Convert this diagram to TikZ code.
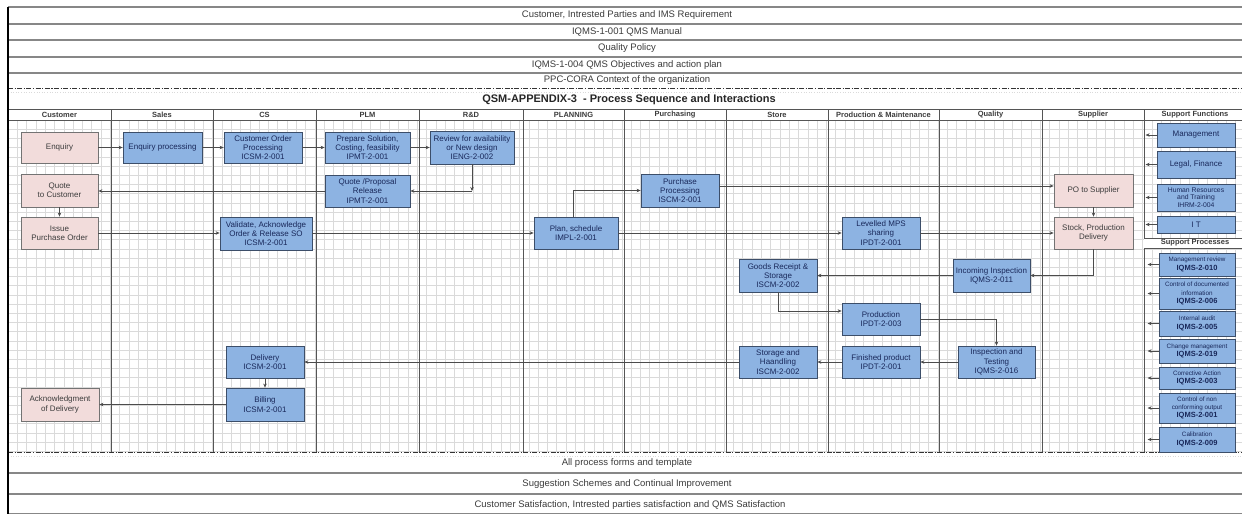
\documentclass[tikz,border=0pt]{standalone}
\usepackage{fontspec}
\setmainfont{Liberation Sans}
\usetikzlibrary{arrows.meta}
\definecolor{boxblue}{RGB}{141,179,226}
\definecolor{blueline}{RGB}{60,78,105}
\definecolor{boxpink}{RGB}{242,220,219}
\definecolor{pinkline}{RGB}{115,115,115}
\definecolor{navy}{RGB}{25,40,90}
\definecolor{gridc}{RGB}{218,218,218}
\definecolor{lanec}{RGB}{85,85,85}
\definecolor{bandc}{RGB}{135,135,135}
\definecolor{txtc}{RGB}{60,60,60}
\begin{document}
\begin{tikzpicture}[x=1pt,y=-1pt,
  base/.style={draw, line width=0.8pt, inner sep=1pt, align=center, font=\fontsize{8}{9.3}\selectfont},
  bluebox/.style={base, fill=boxblue, draw=blueline, text=navy},
  pinkbox/.style={base, fill=boxpink, draw=pinkline, text=txtc},
  spbox/.style={bluebox, minimum width=76pt, font=\fontsize{7.5}{8.2}\selectfont},
  sfbox/.style={bluebox, minimum width=78pt},
  conn/.style={draw=black!70, line width=0.6pt, -{Stealth[length=4pt,width=3.5pt]}},
  band/.style={draw=bandc, line width=1.2pt},
  bandtext/.style={font=\fontsize{9.5}{10}\selectfont, text=txtc, inner sep=0pt},
  lanehead/.style={font=\bfseries\fontsize{7.5}{8}\selectfont, text=txtc, inner sep=0pt},
  laneline/.style={draw=lanec, line width=0.9pt},
  dashline/.style={draw=black!80, line width=1pt, dash pattern=on 5pt off 1.5pt on 1.2pt off 1.5pt}
]
\useasboundingbox (0,0) rectangle (1242,515);
\fill[white] (0,0) rectangle (1242,515);

% grid
\foreach \x in {8,17.3,...,1242} \draw[gridc, line width=0.45pt] (\x,120) -- (\x,452);
\foreach \y in {120,129.2,...,452} \draw[gridc, line width=0.45pt] (8,\y) -- (1242,\y);

% top bands
\foreach \y in {7,24,40,57,73} \draw[band] (8,\y) -- (1242,\y);
\node[bandtext] (t1) at (627,15.5) {Customer, Intrested Parties and IMS Requirement};
\node[bandtext] (t2) at (627,32) {IQMS-1-001 QMS Manual};
\node[bandtext] (t3) at (627,48.5) {Quality Policy};
\node[bandtext] (t4) at (627,65) {IQMS-1-004 QMS Objectives and action plan};
\node[bandtext] (t5) at (627,80.5) {PPC-CORA Context of the organization};
\draw[dashline] (8,88) -- (1242,88);
\draw[gridc, line width=0.6pt, dotted] (8,92) -- (1242,92);
\node[font=\bfseries\fontsize{11}{12}\selectfont, text=black!85, inner sep=0pt] (title) at (629,100) {QSM-APPENDIX-3 \ - Process Sequence and Interactions};

% lane header row
\fill[white] (8,109) rectangle (1242,120);
\draw[laneline] (8,109) -- (1242,109);
\draw[laneline] (8,120) -- (1242,120);
\foreach \x in {111,213,316,419,523,624,726,828,939,1042,1144} \draw[laneline] (\x,109) -- (\x,452);
\node[lanehead] (h1) at (59.5,114.5) {Customer};
\node[lanehead] (h2) at (162,114.5) {Sales};
\node[lanehead] (h3) at (264.5,114.5) {CS};
\node[lanehead] (h4) at (367.5,114.5) {PLM};
\node[lanehead] (h5) at (471,114.5) {R\&D};
\node[lanehead] (h6) at (573.5,114.5) {PLANNING};
\node[lanehead] (h7) at (675,114.5) {Purchasing};
\node[lanehead] (h8) at (777,114.5) {Store};
\node[lanehead] (h9) at (883.5,114.5) {Production \& Maintenance};
\node[lanehead] (h10) at (990.5,114.5) {Quality};
\node[lanehead] (h11) at (1093,114.5) {Supplier};
\node[lanehead] (h12) at (1195,114.5) {Support Functions};

% support processes header band
\fill[white] (1144,238) rectangle (1242,248);
\draw[laneline] (1144,238) -- (1242,238);
\draw[laneline] (1144,248) -- (1242,248);
\node[lanehead] (h13) at (1195,243) {Support Processes};

% bottom bands
\draw[dashline] (8,452) -- (1242,452);
\draw[gridc, line width=0.6pt, dotted] (8,456) -- (1242,456);
\foreach \y in {473,494,513.5} \draw[band] (8,\y) -- (1242,\y);
\node[bandtext] (b1) at (627,463) {All process forms and template};
\node[bandtext] (b2) at (627,484) {Suggestion Schemes and Continual Improvement};
\node[bandtext] (b3) at (630,505) {Customer Satisfaction, Intrested parties satisfaction and QMS Satisfaction};
\draw[black, line width=1.3pt] (8,7) -- (8,514);

% process boxes
\node[pinkbox, minimum width=77pt, minimum height=31pt] (enq) at (59.5,147.5) {Enquiry};
\node[bluebox, minimum width=79pt, minimum height=31pt] (enqp) at (162.5,147.5) {Enquiry processing};
\node[bluebox, minimum width=78pt, minimum height=31pt] (cop) at (263,147.5) {Customer Order\\Processing\\ICSM-2-001};
\node[bluebox, minimum width=85pt, minimum height=31pt] (prep) at (367.5,147.5) {Prepare Solution,\\Costing, feasibility\\IPMT-2-001};
\node[bluebox, minimum width=84pt, minimum height=33pt] (rev) at (472,147.5) {Review for availability\\or New design\\IENG-2-002};
\node[pinkbox, minimum width=77pt, minimum height=33pt] (qtc) at (59.5,190.5) {Quote\\to Customer};
\node[bluebox, minimum width=85pt, minimum height=32pt] (qpr) at (367.5,191) {Quote /Proposal\\Release\\IPMT-2-001};
\node[pinkbox, minimum width=77pt, minimum height=32pt] (ipo) at (59.5,233) {Issue\\Purchase Order};
\node[bluebox, minimum width=92pt, minimum height=33pt] (val) at (266,233.5) {Validate, Acknowledge\\Order \& Release SO\\ICSM-2-001};
\node[bluebox, minimum width=84pt, minimum height=32pt] (plan) at (576,233) {Plan, schedule\\IMPL-2-001};
\node[bluebox, minimum width=78pt, minimum height=33pt] (pur) at (680,190.5) {Purchase\\Processing\\ISCM-2-001};
\node[pinkbox, minimum width=79pt, minimum height=33pt] (pos) at (1093.5,190.5) {PO to Supplier};
\node[pinkbox, minimum width=79pt, minimum height=32pt] (stock) at (1093.5,233) {Stock, Production\\Delivery};
\node[bluebox, minimum width=78pt, minimum height=32pt] (mps) at (881,233) {Levelled MPS\\sharing\\IPDT-2-001};
\node[bluebox, minimum width=78pt, minimum height=33pt] (grs) at (778,275.5) {Goods Receipt \&\\Storage\\ISCM-2-002};
\node[bluebox, minimum width=77pt, minimum height=33pt] (inc) at (991.5,275.5) {Incoming Inspection\\IQMS-2-011};
\node[bluebox, minimum width=78pt, minimum height=32pt] (prod) at (881,319) {Production\\IPDT-2-003};
\node[bluebox, minimum width=78pt, minimum height=32pt] (fin) at (881,362) {Finished product\\IPDT-2-001};
\node[bluebox, minimum width=77pt, minimum height=32pt] (ins) at (996.5,362) {Inspection and\\Testing\\IQMS-2-016};
\node[bluebox, minimum width=78pt, minimum height=32pt] (sto) at (778,362) {Storage and\\Haandling\\ISCM-2-002};
\node[bluebox, minimum width=78pt, minimum height=32pt] (del) at (265,362) {Delivery\\ICSM-2-001};
\node[bluebox, minimum width=78pt, minimum height=33pt] (bil) at (265,404.5) {Billing\\ICSM-2-001};
\node[pinkbox, minimum width=78pt, minimum height=33pt] (ack) at (60,404.5) {Acknowledgment\\of Delivery};

% support functions
\node[sfbox, minimum height=24pt] (mgmt) at (1196,135) {Management};
\node[sfbox, minimum height=27pt] (legal) at (1196,164.5) {Legal, Finance};
\node[sfbox, minimum height=27pt, font=\fontsize{6.8}{7.8}\selectfont] (hr) at (1196,197.5) {Human Resources\\and Training\\IHRM-2-004};
\node[sfbox, minimum height=17pt] (it) at (1196,224.5) {I T};

% support processes
\newcommand\dsc[1]{{\fontsize{6.3}{7}\selectfont #1}}
\node[spbox, minimum height=23pt] (mr) at (1197,264.5) {\dsc{Management review}\\\textbf{IQMS-2-010}};
\node[spbox, minimum height=31pt] (cdi) at (1197,293.5) {\dsc{Control of documented}\\\dsc{information}\\\textbf{IQMS-2-006}};
\node[spbox, minimum height=25pt] (ia) at (1197,323.5) {\dsc{Internal audit}\\\textbf{IQMS-2-005}};
\node[spbox, minimum height=24pt] (cm) at (1197,351) {\dsc{Change management}\\\textbf{IQMS-2-019}};
\node[spbox, minimum height=22pt] (ca) at (1197,378) {\dsc{Corrective Action}\\\textbf{IQMS-2-003}};
\node[spbox, minimum height=30pt] (cnc) at (1197,408) {\dsc{Control of non}\\\dsc{conforming output}\\\textbf{IQMS-2-001}};
\node[spbox, minimum height=25pt] (cal) at (1197,439.5) {\dsc{Calibration}\\\textbf{IQMS-2-009}};

% connectors
\draw[conn] (enq.east) -- (enqp.west);
\draw[conn] (enqp.east) -- (cop.west);
\draw[conn] (cop.east) -- (prep.west);
\draw[conn] (prep.east) -- (rev.west);
\coordinate (c5) at (rev.south |- qpr.east);
\draw[conn] (rev.south) -- (c5);
\draw[conn] (c5) -- (qpr.east);
\draw[conn] (qpr.west) -- (qtc.east |- qpr.west);
\draw[conn] (qtc.south) -- (ipo.north);
\draw[conn] (ipo.east) -- (val.west |- ipo.east);
\draw[conn] (val.east |- plan.west) -- (plan.west);
\draw[conn] (plan.east) -- (mps.west);
\draw[conn] (mps.east) -- (stock.west);
\draw[conn] ([xshift=-3pt]plan.north) |- (pur.west);
\coordinate (c13) at ([yshift=4.5pt]pur.east);
\draw[conn] (c13) -- (pos.west |- c13);
\draw[conn] (pos.south) -- (stock.north);
\draw[conn] (stock.south) |- (inc.east);
\draw[conn] (inc.west) -- (grs.east);
\coordinate (c17) at ([yshift=8pt]prod.west);
\draw[conn] (grs.south) |- (c17);
\draw[conn] (prod.east) -| (ins.north);
\draw[conn] (ins.west) -- (fin.east);
\draw[conn] (fin.west) -- (sto.east);
\draw[conn] (sto.west) -- (del.east);
\draw[conn] (del.south) -- (bil.north);
\draw[conn] (bil.west) -- (ack.east);

% support arrows
\foreach \n in {mgmt,legal,hr,it,mr,cdi,ia,cm,ca,cnc,cal} {
  \path (\n.west) ++(-11,0) coordinate (\n T);
  \draw[conn] (\n.west) -- (\n T);
}
\end{tikzpicture}
\end{document}
